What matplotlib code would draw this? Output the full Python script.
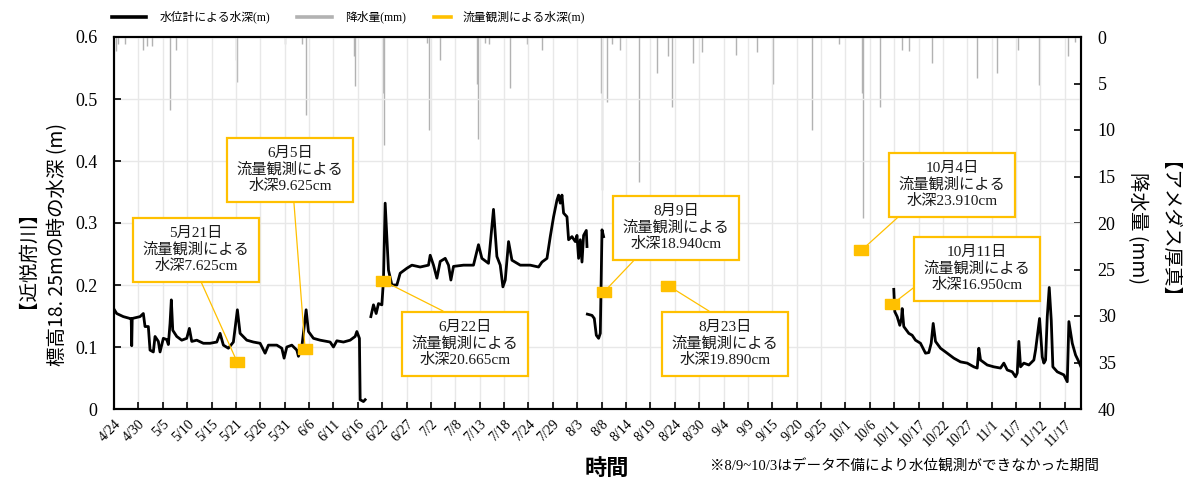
import datetime as dt

import matplotlib
matplotlib.use("Agg")
import matplotlib.dates as mdates
import matplotlib.pyplot as plt
import numpy as np
from matplotlib.lines import Line2D
from matplotlib.ticker import FixedLocator, FuncFormatter

plt.rcParams["font.family"] = ["Liberation Serif", "Noto Sans CJK JP"]

# days elapsed since 2021-04-24 00:00
START = dt.datetime(2021, 4, 24)

# water level logger (m), four recorded stretches
lvl_a_day = [0.72, 1.31, 2.75, 4.21, 4.47, 4.58, 4.69, 6.39, 7.11, 7.48, 8.20, 8.57, 9.29, 9.66,
             10.38, 10.75, 11.47, 12.21, 12.56, 12.93, 13.21, 13.52, 14.39, 15.48, 16.57, 17.14,
             17.66, 18.75, 20.19, 21.65, 23.11, 23.83, 24.55, 25.64, 26.73, 27.60, 28.19, 29.65,
             31.09, 32.55, 33.64, 34.36, 36.19, 37.28, 37.78, 38.37, 39.46, 40.55, 40.90, 41.64,
             42.58, 43.08, 44.17, 45.63, 47.81, 48.53, 49.27, 50.71, 52.17, 53.26, 53.63, 54.19,
             54.35, 55.07, 55.44]
lvl_a_m = [0.161, 0.154, 0.149, 0.146, 0.146, 0.102, 0.146, 0.149, 0.154, 0.133, 0.133, 0.095,
           0.092, 0.117, 0.109, 0.092, 0.114, 0.112, 0.104, 0.138, 0.176, 0.127, 0.117, 0.111,
           0.114, 0.130, 0.109, 0.111, 0.106, 0.106, 0.108, 0.122, 0.103, 0.098, 0.108, 0.160,
           0.122, 0.111, 0.108, 0.106, 0.090, 0.103, 0.103, 0.098, 0.082, 0.100, 0.103, 0.095,
           0.085, 0.100, 0.160, 0.125, 0.114, 0.111, 0.108, 0.100, 0.110, 0.108, 0.111, 0.117,
           0.125, 0.114, 0.015, 0.012, 0.015]

lvl_b_day = [56.68, 57.25, 57.84, 58.34, 59.08, 59.43, 59.80, 60.52, 61.26, 62.35, 63.07, 64.53,
             65.62, 67.43, 69.24, 69.61, 70.33, 71.07, 71.79, 72.88, 73.60, 74.12, 74.69, 76.87,
             79.04, 80.13, 80.87, 82.31, 83.40, 84.14, 84.87, 85.45, 85.96, 86.68, 87.42, 89.23,
             91.41, 93.22, 93.96, 95.05, 95.77, 96.49, 97.23, 97.58, 97.95, 98.32, 98.67, 99.41,
             99.76, 100.50, 101.22, 101.59, 101.94, 102.31, 102.68, 103.03, 103.62, 103.77]
lvl_b_m = [0.149, 0.168, 0.154, 0.170, 0.168, 0.208, 0.332, 0.224, 0.200, 0.200, 0.219, 0.227,
           0.232, 0.229, 0.232, 0.248, 0.232, 0.211, 0.238, 0.243, 0.232, 0.208, 0.230, 0.232,
           0.232, 0.265, 0.243, 0.235, 0.322, 0.246, 0.232, 0.197, 0.208, 0.270, 0.240, 0.232,
           0.232, 0.229, 0.237, 0.243, 0.278, 0.310, 0.337, 0.345, 0.332, 0.345, 0.316, 0.310,
           0.273, 0.278, 0.270, 0.280, 0.243, 0.273, 0.237, 0.280, 0.288, 0.262]

lvl_c_day = [103.85, 104.86, 105.36, 105.80, 106.30, 106.67, 107.04, 107.39]
lvl_c_m = [0.153, 0.151, 0.146, 0.119, 0.114, 0.122, 0.289, 0.278]

lvl_d_day = [170.61, 170.83, 171.35, 171.92, 172.29, 172.44, 172.79, 173.88, 174.61, 175.34,
             176.43, 177.52, 178.24, 178.76, 179.20, 179.70, 180.79, 182.25, 183.69, 185.15,
             186.61, 188.05, 188.79, 189.14, 189.51, 190.97, 192.41, 193.87, 194.59, 195.33,
             196.42, 197.14, 197.51, 197.86, 198.23, 198.95, 200.04, 201.13, 201.50, 202.37,
             202.96, 203.31, 203.68, 204.05, 204.48, 204.92, 205.27, 206.23, 207.67, 208.41,
             208.76, 209.50, 210.22, 210.94, 211.40]
lvl_d_m = [0.193, 0.157, 0.149, 0.135, 0.146, 0.162, 0.133, 0.122, 0.119, 0.111, 0.106, 0.090,
           0.091, 0.106, 0.138, 0.109, 0.098, 0.090, 0.082, 0.076, 0.074, 0.068, 0.066, 0.098,
           0.079, 0.071, 0.068, 0.066, 0.074, 0.063, 0.060, 0.052, 0.058, 0.109, 0.068, 0.074,
           0.071, 0.079, 0.095, 0.146, 0.084, 0.074, 0.079, 0.149, 0.196, 0.143, 0.068, 0.060,
           0.055, 0.044, 0.141, 0.106, 0.087, 0.076, 0.068]

# AMeDAS Atsuma hourly rainfall (mm)
rain_day = [1.16, 1.6, 3.1, 7.0, 7.9, 9.0, 12.9, 14.2, 27.2, 27.5, 38.0, 41.6, 42.5, 53.0, 53.3,
            59.4, 59.6, 68.9, 69.4, 71.8, 79.8, 80.1, 81.6, 82.5, 87.0, 90.7, 94.0, 106.8, 107.0,
            108.1, 109.3, 111.0, 115.0, 119.0, 121.4, 122.3, 126.9, 128.8, 136.3, 140.8, 144.3,
            152.8, 158.6, 163.6, 163.8, 167.7, 172.4, 174.0, 179.0, 188.8, 193.2, 197.7, 202.2,
            208.5, 210.2]
rain_mm = [1.5, 0.8, 0.8, 1.4, 1.0, 1.0, 7.8, 1.4, 2.5, 4.8, 0.8, 0.8, 8.4, 2.0, 5.3,
           6.0, 11.6, 0.6, 10.0, 2.5, 5.0, 11.0, 0.6, 0.8, 5.5, 0.7, 1.4, 6.0, 16.4,
           7.0, 0.8, 1.4, 15.6, 3.9, 2.0, 7.5, 2.8, 1.6, 1.9, 1.6, 5.0,
           10.0, 0.8, 6.0, 19.5, 7.5, 1.4, 1.5, 2.8, 4.4, 3.9, 1.4, 5.2,
           2.0, 0.5]

# discharge survey depths (m)
obs_day = [27.53, 42.36, 59.36, 107.54, 121.49, 163.57, 170.33]
obs_m = [0.07625, 0.09625, 0.20665, 0.1894, 0.1989, 0.2560, 0.1695]
obs_label = ["5月21日\n流量観測による\n水深7.625cm",
             "6月5日\n流量観測による\n水深9.625cm",
             "6月22日\n流量観測による\n水深20.665cm",
             "8月9日\n流量観測による\n水深18.940cm",
             "8月23日\n流量観測による\n水深19.890cm",
             "10月4日\n流量観測による\n水深23.910cm",
             "10月11日\n流量観測による\n水深16.950cm"]

# label box centres (figure pixels, from top-left) and leader anchor on the box
box_xy = [(196, 250), (290, 170), (465, 344), (676, 228), (725, 344), (952, 185), (977, 269)]
box_rel = [(0.51, 0), (0.53, 0), (0.48, 1), (0.19, 0), (0.5, 1), (0.09, 0), (0, 0.26)]

W, H = 1183, 480
BLACK = "#000000"
GRAY = "#b2b2b2"
ORANGE = "#FFC000"

t0 = mdates.date2num(START)


def to_num(days):
    return t0 + np.asarray(days, dtype=float)


fig = plt.figure(figsize=(W / 100, H / 100), dpi=100)
ax = fig.add_axes([114 / W, 1 - 409 / H, (1081 - 114) / W, (409 - 37) / H])
ax2 = ax.twinx()
ax.set_zorder(ax2.get_zorder() + 1)
ax.patch.set_visible(False)

# rainfall hanging from the top
ax2.vlines(to_num(rain_day), 0, rain_mm, color=GRAY, lw=1.0)
ax2.set_ylim(40, 0)
ax2.set_yticks(np.arange(0, 41, 5))

for d, m in [(lvl_a_day, lvl_a_m), (lvl_b_day, lvl_b_m), (lvl_c_day, lvl_c_m), (lvl_d_day, lvl_d_m)]:
    ax.plot(to_num(d), m, color=BLACK, lw=2.0, solid_joinstyle="round")

rect = [(-7, -4.75), (7, -4.75), (7, 4.75), (-7, 4.75), (-7, -4.75)]
ax.plot(to_num(obs_day), obs_m, ls="none", marker=rect, ms=10, color=ORANGE, mec=ORANGE, zorder=5)

for xd, yv, lab, (bx, by), rel in zip(obs_day, obs_m, obs_label, box_xy, box_rel):
    ax.annotate(lab, xy=(to_num([xd])[0], yv), xytext=(bx, H - by), textcoords="figure pixels",
                ha="center", va="center", fontsize=11, linespacing=1.2, color="#1a1a1a",
                bbox=dict(boxstyle="square,pad=0.6", fc="white", ec=ORANGE, lw=1.6),
                arrowprops=dict(arrowstyle="-", color=ORANGE, lw=0.9, relpos=rel,
                                shrinkA=0, shrinkB=0),
                zorder=4)

ax.set_ylim(0, 0.6)
ax.set_yticks(np.arange(0, 0.61, 0.1))
ax.yaxis.set_major_formatter(FuncFormatter(lambda v, p: "0" if v == 0 else f"{v:.1f}"))

tick_days = 0.72 + 5.312 * np.arange(40)
ax.set_xlim(to_num([0.72])[0], to_num([211.4])[0])
ax.xaxis.set_major_locator(FixedLocator(to_num(tick_days)))
ax.xaxis.set_major_formatter(
    FuncFormatter(lambda v, p: f"{mdates.num2date(v).month}/{mdates.num2date(v).day}"))

ax.grid(True, color="#e8e8e8", lw=1.0)
ax.set_axisbelow(True)
for a in (ax, ax2):
    for s in a.spines.values():
        s.set_linewidth(1.5)
        s.set_color(BLACK)

ax.tick_params(axis="y", direction="in", length=5, width=1.2, labelsize=13, pad=12)
ax.tick_params(axis="x", direction="in", length=5, width=1.2, labelsize=10, pad=6)
ax2.tick_params(axis="y", direction="in", length=5, width=1.2, labelsize=13, pad=12)
for lab in ax.get_xticklabels():
    lab.set_rotation(45)
    lab.set_ha("right")
    lab.set_rotation_mode("anchor")

# axis titles; the bracketed lines render ~12 px right of their anchor, so they sit further left
cjk = ["Noto Sans CJK JP"]
ink = 0.38 * 14 * 100 / 72
for text, xc, yc, rot in [("【近悦府川】", 15, 250, 90),
                          ("標高18. 25mの時の水深 (m)", 56, 244, 90),
                          ("【アメダス厚真】", 1160, 240, 270),
                          ("降水量 (mm)", 1139, 228, 270)]:
    xb = xc + ink if rot == 90 else xc - ink
    fig.text(xb / W, 1 - yc / H, text, rotation=rot, rotation_mode="anchor",
             ha="center", va="baseline", fontsize=14, family=cjk)

fig.text(607 / W, 1 - 468 / H, "時間", ha="center", va="center", fontsize=16,
         family=cjk, fontweight="bold")
fig.text(710 / W, 1 - 467 / H, "※8/9~10/3はデータ不備により水位観測ができなかった期間",
         ha="left", va="center", fontsize=10.5)

# legend row above the plot
legend_items = [("水位計による水深(m)", BLACK, 112, 146, 160),
                ("降水量(mm)", GRAY, 297, 332, 345),
                ("流量観測による水深(m)", ORANGE, 434, 451, 463)]
ly = 1 - 17 / H
for text, col, x0, x1, xt in legend_items:
    fig.add_artist(Line2D([x0 / W, x1 / W], [ly, ly], transform=fig.transFigure, color=col, lw=2.6))
    fig.text(xt / W, ly, text, ha="left", va="center", fontsize=8.5)

fig.savefig("out.png", dpi=100)
